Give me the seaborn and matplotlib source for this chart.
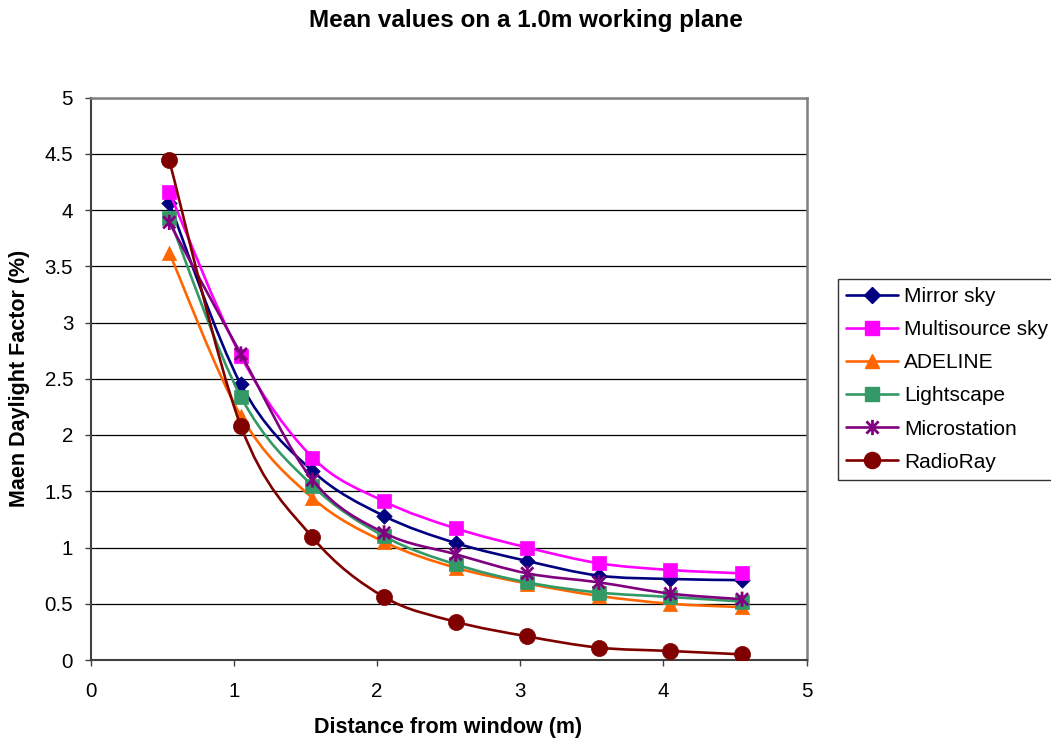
import numpy as np
import pandas as pd
import matplotlib
matplotlib.use("Agg")
import matplotlib.pyplot as plt
from matplotlib.path import Path
from matplotlib.patches import PathPatch
from matplotlib.lines import Line2D
import seaborn as sns

# Distance from the window (m) at which each mean was taken
distance = [0.55, 1.05, 1.55, 2.05, 2.55, 3.05, 3.55, 4.05, 4.55]

# Mean daylight factor (%) per method
mirror_sky = [4.06, 2.45, 1.68, 1.28, 1.04, 0.88, 0.75, 0.72, 0.71]
multisource_sky = [4.16, 2.70, 1.80, 1.41, 1.17, 1.00, 0.86, 0.80, 0.77]
adeline = [3.62, 2.17, 1.44, 1.05, 0.82, 0.68, 0.57, 0.50, 0.47]
lightscape = [3.93, 2.34, 1.55, 1.10, 0.85, 0.69, 0.60, 0.56, 0.52]
microstation = [3.89, 2.72, 1.60, 1.13, 0.94, 0.77, 0.69, 0.59, 0.54]
radioray = [4.44, 2.08, 1.09, 0.56, 0.34, 0.21, 0.11, 0.08, 0.05]

series_names = ["Mirror sky", "Multisource sky", "ADELINE", "Lightscape",
                "Microstation", "RadioRay"]
series_values = [mirror_sky, multisource_sky, adeline, lightscape,
                 microstation, radioray]
colors = ["#000080", "#FF00FF", "#FF6600", "#339966", "#800080", "#800000"]

# asterisk: an X crossed by a vertical bar
star = Path([(-1, -1), (1, 1), (-1, 1), (1, -1), (0, -1.25), (0, 1.25)],
            [Path.MOVETO, Path.LINETO, Path.MOVETO, Path.LINETO,
             Path.MOVETO, Path.LINETO])
markers = ["D", "s", "^", "s", star, "o"]
marker_sizes = [62, 115, 105, 115, 120, 135]

sns.set_style("white")
plt.rcParams["font.family"] = ["Liberation Sans", "DejaVu Sans"]
plt.rcParams["text.color"] = "black"
plt.rcParams["axes.labelcolor"] = "black"

fig = plt.figure(figsize=(10.51, 7.40), dpi=100)
ax = fig.add_axes([90.5 / 1051, 1 - 660 / 740, (806.5 - 90.5) / 1051,
                   (660 - 97.5) / 740])


def smooth_path(xs, ys):
    """Cubic Bezier through the points with Catmull-Rom style tangents."""
    pts = np.column_stack([xs, ys]).astype(float)
    n = len(pts)
    verts = [pts[0]]
    codes = [Path.MOVETO]
    for i in range(n - 1):
        p0 = pts[max(i - 1, 0)]
        p1 = pts[i]
        p2 = pts[i + 1]
        p3 = pts[min(i + 2, n - 1)]
        c1 = p1 + (p2 - p0) / 6.0
        c2 = p2 - (p3 - p1) / 6.0
        verts += [c1, c2, p2]
        codes += [Path.CURVE4] * 3
    return Path(verts, codes)


frames = []
for name, vals in zip(series_names, series_values):
    frames.append(pd.DataFrame({"distance": distance, "df": vals,
                                "method": name}))
data = pd.concat(frames, ignore_index=True)

for k, (name, color, mk, ms) in enumerate(zip(series_names, colors,
                                              markers, marker_sizes)):
    sub = data[data["method"] == name]
    z = 3 + 2 * k
    ax.add_patch(PathPatch(smooth_path(sub["distance"], sub["df"]),
                           fill=False, edgecolor=color, lw=1.9,
                           zorder=z, capstyle="round", joinstyle="round"))
    if mk is star:
        sns.scatterplot(data=sub, x="distance", y="df", marker=mk, s=ms,
                        facecolor="none", edgecolor=color, linewidth=2.0,
                        zorder=z + 1, ax=ax, legend=False)
    else:
        sns.scatterplot(data=sub, x="distance", y="df", marker=mk, s=ms,
                        color=color, edgecolor=color, linewidth=0.5,
                        zorder=z + 1, ax=ax, legend=False)

ax.set_xlim(0, 5)
ax.set_ylim(0, 5)
ax.set_xticks(np.arange(0, 6, 1))
ax.set_yticks(np.arange(0, 5.5, 0.5))
ax.set_xticklabels([f"{v:g}" for v in np.arange(0, 6, 1)])
ax.set_yticklabels([f"{v:g}" for v in np.arange(0, 5.5, 0.5)])

ax.yaxis.grid(True, color="#000000", lw=0.9, zorder=1)
ax.xaxis.grid(False)
ax.set_axisbelow(True)

for side in ["left", "bottom"]:
    ax.spines[side].set_color("#404040")
    ax.spines[side].set_linewidth(1.5)
for side in ["top", "right"]:
    ax.spines[side].set_color("#808080")
    ax.spines[side].set_linewidth(1.8)

ax.tick_params(axis="both", direction="out", length=4.5, width=1.0,
               color="#404040", labelsize=14.8, labelcolor="black",
               left=True, bottom=True)
ax.tick_params(axis="y", pad=8)
ax.tick_params(axis="x", pad=11)

ax.set_xlabel("Distance from window (m)", fontsize=15.5, fontweight="bold",
              color="black")
ax.set_ylabel("Maen Daylight Factor (%)", fontsize=15.5, fontweight="bold",
              color="black")
ax.xaxis.set_label_coords(0.5, -(728 - 660) / (660 - 97.5))
ax.yaxis.set_label_coords(-(90.5 - 20) / (806.5 - 90.5), 0.5)
ax.xaxis.label.set_va("center")
ax.yaxis.label.set_va("center")

fig.text(0.5, 1 - 20 / 740, "Mean values on a 1.0m working plane",
         ha="center", va="center", fontsize=17.5, fontweight="bold",
         color="black")

handles = []
for color, mk, ms in zip(colors, markers, marker_sizes):
    if mk is star:
        h = Line2D([], [], color=color, lw=1.9, marker=mk,
                   markersize=np.sqrt(ms), markerfacecolor="none",
                   markeredgecolor=color, markeredgewidth=2.0)
    else:
        h = Line2D([], [], color=color, lw=1.9, marker=mk,
                   markersize=np.sqrt(ms), markerfacecolor=color,
                   markeredgecolor=color)
    handles.append(h)

leg = fig.legend(handles, series_names, loc="upper left",
                 bbox_to_anchor=(838 / 1051, 1 - 279 / 740),
                 fontsize=15, frameon=True, fancybox=False,
                 handlelength=2.5, handletextpad=0.3, labelspacing=0.68,
                 borderpad=0.38, borderaxespad=0)
leg.get_frame().set_edgecolor("black")
leg.get_frame().set_linewidth(1.0)
for t in leg.get_texts():
    t.set_color("black")

fig.savefig("out.png", dpi=100, facecolor="white")
